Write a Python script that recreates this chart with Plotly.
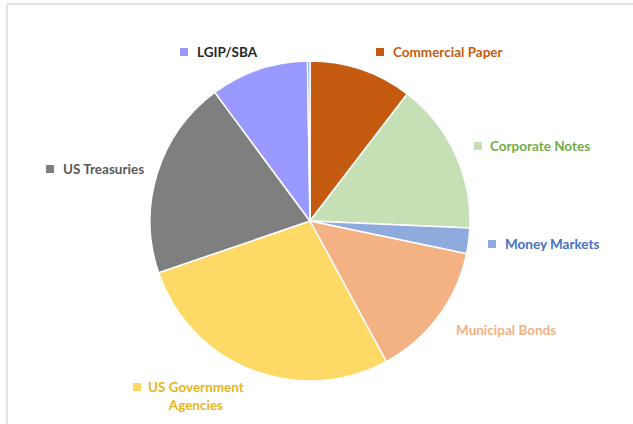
import plotly.graph_objects as go

W, H = 633, 424

categories = ["Commercial Paper", "Corporate Notes", "Money Markets", "Municipal Bonds",
              "US Government Agencies", "US Treasuries", "LGIP/SBA", "Other"]
values = [10.4, 15.3, 2.6, 13.8, 27.7, 20.1, 9.9, 0.25]
slice_colors = ["#C55A11", "#C5E0B4", "#8FAADC", "#F4B183",
                "#FFD966", "#7F7F7F", "#9999FF", "#5B9BD5"]
label_colors = ["#C55A11", "#70AD47", "#4472C4", "#F4B183",
                "#E9B519", "#595959", "#262626", None]
label_texts = ["Commercial Paper", "Corporate Notes", "Money Markets", "Municipal Bonds",
               "US Government<br>Agencies", "US Treasuries", "LGIP/SBA", None]
show_key = [True, True, True, False, True, True, True, False]
# key square (left x, center y) and text left x, in pixels
key_pos = [(376, 52), (474, 146), (488, 244), None, (133, 387), (46, 169), (180, 52), None]
text_pos = [(391, 52), (488, 146), (503, 244), (454, 330), (146, 396), (61, 169), (195, 52), None]

cx, cy, r = 310, 221, 160
FS = 13.5
KS = 8

fig = go.Figure(go.Pie(
    labels=categories, values=values, sort=False, direction="clockwise", rotation=0,
    marker=dict(colors=slice_colors, line=dict(color="white", width=1.5)),
    textinfo="none", hoverinfo="label+percent", showlegend=False,
    domain=dict(x=[(cx - r) / W, (cx + r) / W], y=[1 - (cy + r) / H, 1 - (cy - r) / H]),
))

for txt, col, key, kp, tp, sc in zip(label_texts, label_colors, show_key, key_pos, text_pos, slice_colors):
    if txt is None:
        continue
    if key and kp is not None:
        kx, ky = kp
        fig.add_shape(type="rect", xref="paper", yref="paper",
                      x0=kx / W, x1=(kx + KS) / W, y0=1 - (ky + KS / 2) / H, y1=1 - (ky - KS / 2) / H,
                      fillcolor=sc, line=dict(width=0))
    x, y = tp
    t = "<br>".join(f"<b>{p}</b>" for p in txt.split("<br>"))
    fig.add_annotation(x=x / W, y=1 - y / H, xref="paper", yref="paper", text=t,
                       showarrow=False, xanchor="left", yanchor="middle", align="center",
                       font=dict(family="Lato", size=FS, color=col))

# chart frame
fig.add_shape(type="line", xref="paper", yref="paper", x0=7 / W, x1=1, y0=1 - 4 / H, y1=1 - 4 / H,
              line=dict(color="#D9D9D9", width=1.5))
fig.add_shape(type="line", xref="paper", yref="paper", x0=7 / W, x1=7 / W, y0=0, y1=1 - 4 / H,
              line=dict(color="#D9D9D9", width=1.5))

fig.update_layout(width=W, height=H, margin=dict(l=0, r=0, t=0, b=0),
                  paper_bgcolor="white", plot_bgcolor="white",
                  font=dict(family="Lato"))
fig.write_html("out.html", config={"displayModeBar": False},
               post_script="document.body.style.margin='0';")
